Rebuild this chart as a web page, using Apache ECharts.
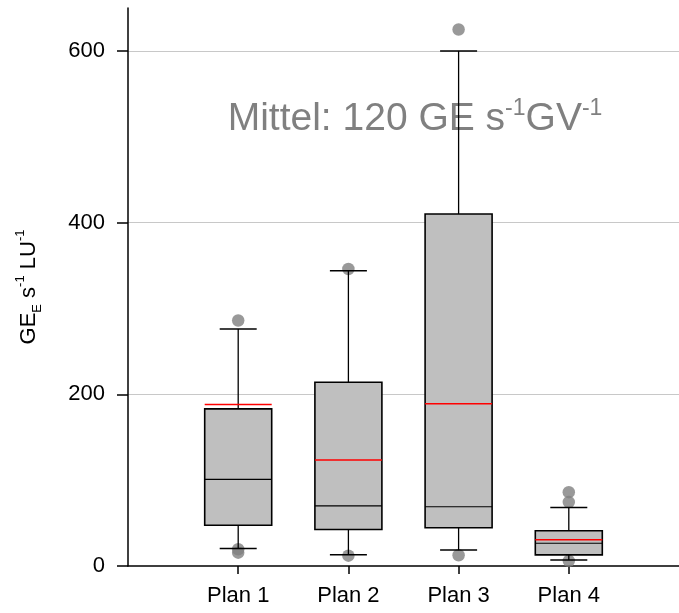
<!DOCTYPE html>
<html>
<head>
<meta charset="utf-8">
<script src="https://cdn.jsdelivr.net/npm/echarts@6/dist/echarts.min.js"></script>
<style>html,body{margin:0;padding:0;background:#fff}#c{width:679px;height:613px}</style>
</head>
<body>
<div id="c"></div>
<script>
const categories = ['Plan 1', 'Plan 2', 'Plan 3', 'Plan 4'];
const whiskerLow = [20.5, 13, 18.5, 7];
const q1 = [47.5, 42.5, 44.5, 13];
const median = [101, 70, 69, 26.5];
const q3 = [183, 214, 410, 41];
const whiskerHigh = [276, 344, 600, 68];
const mean = [188, 123.5, 189, 30.5];
const outliersPlan1 = [286, 19.5, 15.5];
const outliersPlan2 = [346, 12];
const outliersPlan3 = [625, 12.5];
const outliersPlan4 = [86, 74.5, 6];
const yTicks = [0, 200, 400, 600];

const FONT = '"Liberation Sans", Arial, Helvetica, sans-serif';

const boxData = categories.map((c, i) => [i + 1, whiskerLow[i], q1[i], median[i], q3[i], whiskerHigh[i], mean[i]]);
const outlierData = [];
[outliersPlan1, outliersPlan2, outliersPlan3, outliersPlan4].forEach((arr, i) => {
  arr.forEach(v => outlierData.push([i + 1, v]));
});

const BOX_W = 67, CAP_W = 37;

function renderBox(params, api) {
  const x = api.value(0);
  const pLow = api.coord([x, api.value(1)]);
  const pQ1 = api.coord([x, api.value(2)]);
  const pMed = api.coord([x, api.value(3)]);
  const pQ3 = api.coord([x, api.value(4)]);
  const pHigh = api.coord([x, api.value(5)]);
  const pMean = api.coord([x, api.value(6)]);
  const cx = pQ1[0];
  const ls = { stroke: '#000', lineWidth: 1.3 };
  return {
    type: 'group',
    children: [
      { type: 'line', shape: { x1: cx, y1: pHigh[1], x2: cx, y2: pQ3[1] }, style: ls },
      { type: 'line', shape: { x1: cx, y1: pQ1[1], x2: cx, y2: pLow[1] }, style: ls },
      { type: 'line', shape: { x1: cx - CAP_W / 2, y1: pHigh[1], x2: cx + CAP_W / 2, y2: pHigh[1] }, style: { stroke: '#000', lineWidth: 1.5 } },
      { type: 'line', shape: { x1: cx - CAP_W / 2, y1: pLow[1], x2: cx + CAP_W / 2, y2: pLow[1] }, style: { stroke: '#000', lineWidth: 1.5 } },
      { type: 'rect', shape: { x: cx - BOX_W / 2, y: pQ3[1], width: BOX_W, height: pQ1[1] - pQ3[1] }, style: { fill: '#bfbfbf', stroke: '#000', lineWidth: 1.6 } },
      { type: 'line', shape: { x1: cx - BOX_W / 2, y1: pMed[1], x2: cx + BOX_W / 2, y2: pMed[1] }, style: { stroke: '#000', lineWidth: 1.2 } },
      { type: 'line', shape: { x1: cx - BOX_W / 2, y1: pMean[1], x2: cx + BOX_W / 2, y2: pMean[1] }, style: { stroke: '#ff0000', lineWidth: 1.5 } }
    ]
  };
}

const chart = echarts.init(document.getElementById('c'), null, { renderer: 'canvas' });
chart.setOption({
  animation: false,
  backgroundColor: '#fff',
  textStyle: { fontFamily: FONT },
  grid: { left: 128, right: -8, top: 8, bottom: 47, containLabel: false },
  xAxis: {
    type: 'value', min: 0, max: 5, interval: 1,
    axisLine: { show: true, onZero: false, lineStyle: { color: '#000', width: 1.5 } },
    axisTick: { show: true, length: 8, customValues: [1, 2, 3, 4], lineStyle: { color: '#000', width: 1.5 } },
    axisLabel: { show: true, customValues: [1, 2, 3, 4], margin: 19, fontSize: 22, color: '#000', fontFamily: FONT,
      formatter: v => categories[Math.round(v) - 1] || '' },
    splitLine: { show: false }
  },
  yAxis: {
    type: 'value', min: 0, max: 650, interval: 200,
    axisLine: { show: true, lineStyle: { color: '#000', width: 1.5 } },
    axisTick: { show: true, length: 11, customValues: yTicks, lineStyle: { color: '#000', width: 1.5 } },
    axisLabel: { show: true, customValues: yTicks, margin: 23, fontSize: 22, color: '#000', fontFamily: FONT },
    splitLine: { show: true, showMinLine: false, lineStyle: { color: '#c8c8c8', width: 1.2 } }
  },
  graphic: [
    {
      type: 'text', z: 0, x: 415, y: 119,
      style: {
        text: 'Mittel: 120 GE s{sup|-1}GV{sup|-1}',
        fill: '#808080', font: '39px ' + FONT, align: 'center', verticalAlign: 'middle',
        rich: { sup: { fontSize: 23, fill: '#808080', fontFamily: FONT, verticalAlign: 'top', lineHeight: 44 } }
      }
    },
    {
      type: 'text', x: 29, y: 287, rotation: Math.PI / 2,
      style: {
        text: 'GE{sub|E} s{sup|-1} LU{sup|-1}',
        fill: '#000', font: '22px ' + FONT, align: 'center', verticalAlign: 'middle',
        rich: {
          sub: { fontSize: 13, fill: '#000', fontFamily: FONT, verticalAlign: 'bottom', lineHeight: 30 },
          sup: { fontSize: 13, fill: '#000', fontFamily: FONT, verticalAlign: 'top', lineHeight: 30 }
        }
      }
    }
  ],
  series: [
    {
      type: 'scatter', z: 1, data: outlierData, symbol: 'circle', symbolSize: 12.5,
      itemStyle: { color: '#808080' }, silent: true
    },
    {
      type: 'custom', z: 3, data: boxData, renderItem: renderBox,
      encode: { x: 0, y: [1, 2, 3, 4, 5, 6] }, silent: true
    }
  ]
});
</script>
</body>
</html>
